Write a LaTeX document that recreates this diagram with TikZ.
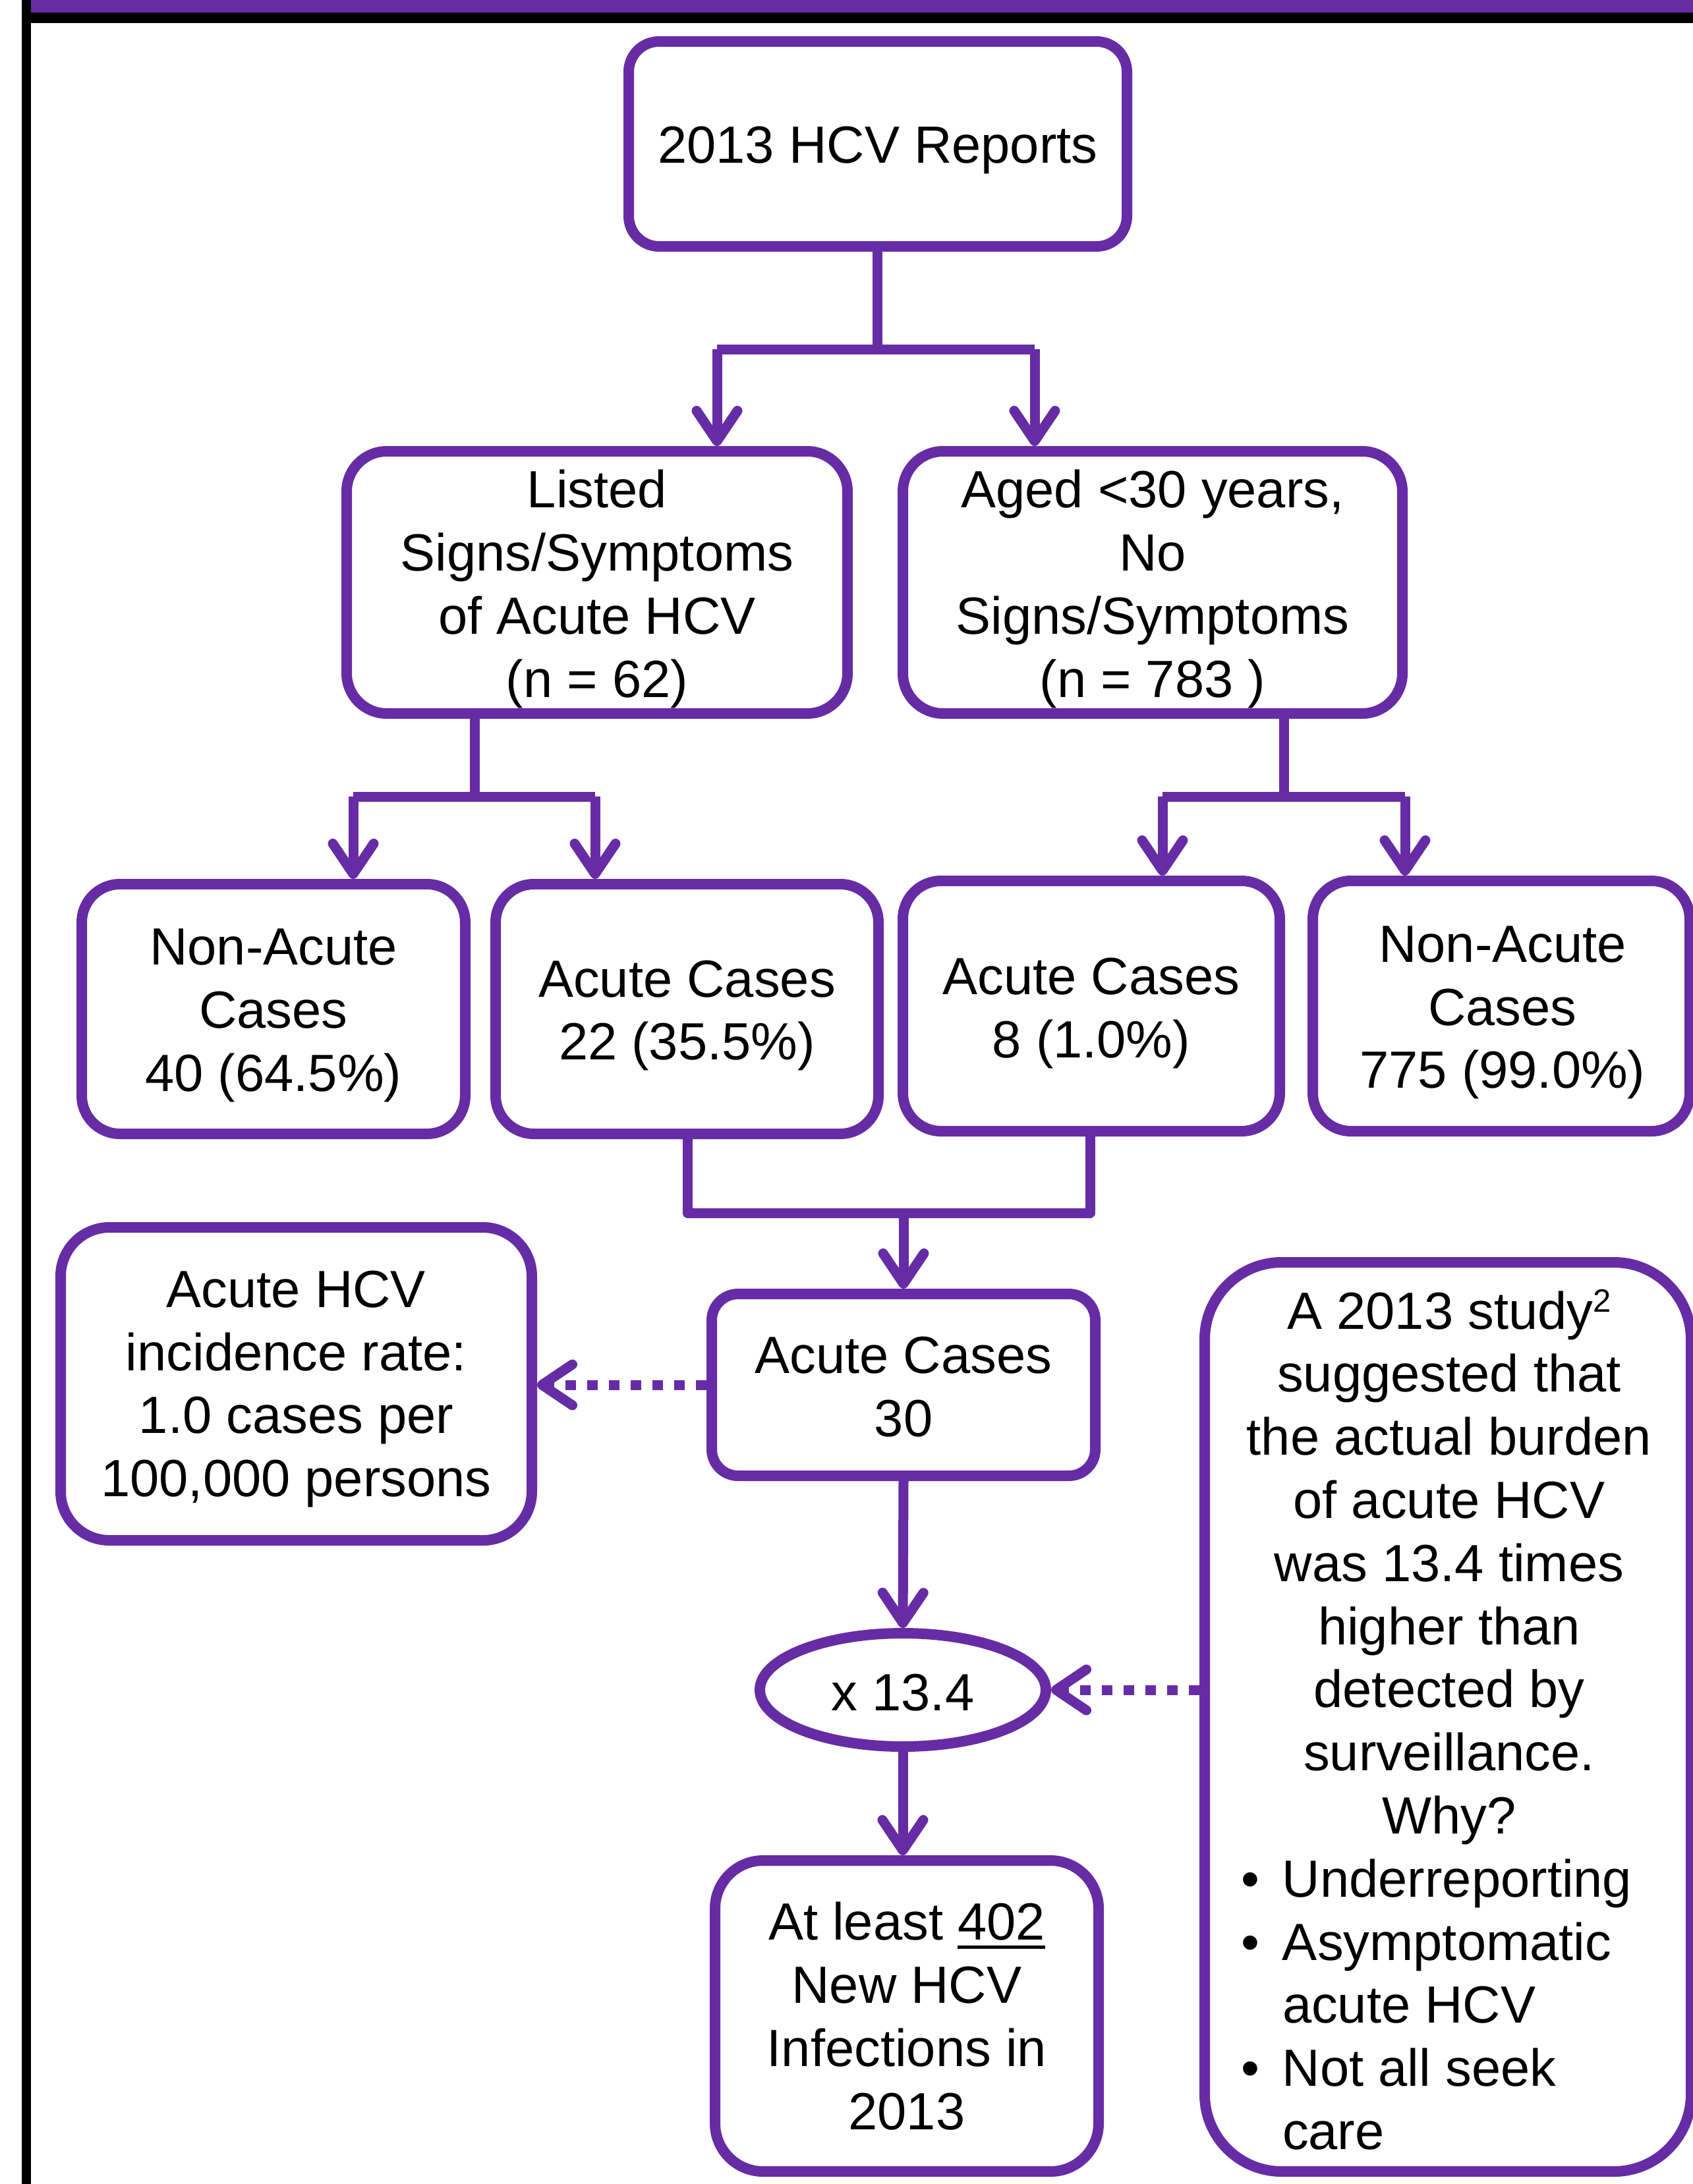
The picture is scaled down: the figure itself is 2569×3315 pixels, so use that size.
\documentclass[tikz,border=0pt]{standalone}
\usepackage{fontspec}
\setmainfont{Liberation Sans}
\usetikzlibrary{arrows.meta,shapes.geometric}
\definecolor{hcvpurple}{RGB}{102,44,165}
\newcommand\fs{\fontsize{79.5pt}{95.8pt}\selectfont}
\newcommand\ulnum[1]{\setbox0\hbox{#1}\rlap{\rule[-13pt]{\wd0}{5pt}}\box0}
\newcommand\kline[2]{\makebox[632pt][l]{\makebox[63pt][l]{#1}#2}}
\newcommand\supnum[1]{\raisebox{26pt}{\fontsize{49pt}{50pt}\selectfont #1}}
\begin{document}
\begin{tikzpicture}[x=1pt,y=-1pt,
  box/.style={draw=hcvpurple, line width=16pt, fill=white, inner sep=0pt},
  txt/.style={align=center, inner sep=0pt, font=\fs, text=black},
  conn/.style={draw=hcvpurple, line width=15pt, line join=round},
  arr/.style={conn, -{Straight Barb[length=46pt,width=62pt,round]}},
  dotarr/.style={arr, dash pattern=on 16pt off 17pt}]
\path[use as bounding box] (0,0) rectangle (2569,3315);
\fill[white] (0,0) rectangle (2569,3315);
\fill[black] (33,0) rectangle (47,3315);
\fill[hcvpurple] (47,0) rectangle (2569,19);
\fill[black] (47,19) rectangle (2569,35);

% boxes
\node[box, minimum width=756pt, minimum height=311pt, rounded corners=46pt] (A) at (1332,218.5) {};
\node[box, minimum width=760pt, minimum height=398pt, rounded corners=61pt] (B) at (906,884) {};
\node[box, minimum width=758pt, minimum height=398pt, rounded corners=61pt] (C) at (1749,884) {};
\node[box, minimum width=582pt, minimum height=379pt, rounded corners=58pt] (D) at (415,1531.5) {};
\node[box, minimum width=581pt, minimum height=379pt, rounded corners=58pt] (E) at (1042.5,1531.5) {};
\node[box, minimum width=572pt, minimum height=380pt, rounded corners=58pt] (F) at (1656,1527) {};
\node[box, minimum width=572pt, minimum height=380pt, rounded corners=58pt] (G) at (2278,1527) {};
\node[box, minimum width=582pt, minimum height=276pt, rounded corners=40pt] (H) at (1371,2102) {};
\node[box, minimum width=715pt, minimum height=475pt, rounded corners=74pt] (J) at (449.5,2100.5) {};
\node[box, ellipse, minimum width=434pt, minimum height=172pt] (X) at (1370,2565) {};
\node[box, minimum width=582pt, minimum height=472pt, rounded corners=73pt] (I) at (1376,3060) {};
\node[box, minimum width=738pt, minimum height=1380pt, rounded corners=117pt] (K) at (2197,2606) {};

% texts
\node[txt] (At) at ([yshift=-9pt]A.center) {2013 HCV Reports};
\node[txt] (Bt) at ([yshift=-10pt]B.center) {Listed\\Signs/Symptoms\\of Acute HCV\\(n = 62)};
\node[txt] (Ct) at ([yshift=-10pt]C.center) {Aged <30 years,\\No\\Signs/Symptoms\\(n = 783 )};
\node[txt] (Dt) at ([yshift=-10pt]D.center) {Non-Acute\\Cases\\40 (64.5\%)};
\node[txt] (Et) at ([yshift=-10pt]E.center) {Acute Cases\\22 (35.5\%)};
\node[txt] (Ft) at ([yshift=-11pt]F.center) {Acute Cases\\8 (1.0\%)};
\node[txt] (Gt) at ([xshift=2pt,yshift=-10pt]G.center) {Non-Acute\\Cases\\775 (99.0\%)};
\node[txt] (Ht) at ([yshift=-3pt]H.center) {Acute Cases\\30};
\node[txt] (Jt) at ([yshift=-8pt]J.center) {Acute HCV\\incidence rate:\\1.0 cases per\\100,000 persons};
\node[txt] (Xt) at ([yshift=-4pt]X.center) {x 13.4};
\node[txt] (It) at (I.center) {At least \ulnum{402}\\New HCV\\Infections in\\2013};
\node[txt] (Kt) at ([xshift=2pt,yshift=-4pt]K.center) {A 2013 study\supnum{2}\\suggested that\\the actual burden\\of acute HCV\\was 13.4 times\\higher than\\detected by\\surveillance.\\Why?\\\kline{•}{Underreporting}\\\kline{•}{Asymptomatic}\\\kline{}{acute HCV}\\\kline{•}{Not all seek}\\\kline{}{care}};

% level 1
\coordinate (a1) at (1331,530);
\coordinate (a2) at (1088,530);
\coordinate (a3) at (1570,530);
\draw[conn] (A.south -| a1) -- (a1);
\draw[conn] (a2) -- (a3);
\draw[arr] (a2) -- (a2 |- B.north);
\draw[arr] (a3) -- (a3 |- C.north);

% level 2 left
\coordinate (b1) at (720,1209);
\coordinate (b2) at (536,1209);
\coordinate (b3) at (903,1209);
\draw[conn] (B.south -| b1) -- (b1);
\draw[conn] (b2) -- (b3);
\draw[arr] (b2) -- (b2 |- D.north);
\draw[arr] (b3) -- (b3 |- E.north);

% level 2 right
\coordinate (c1) at (1948,1209);
\coordinate (c2) at (1764,1209);
\coordinate (c3) at (2132,1209);
\draw[conn] (C.south -| c1) -- (c1);
\draw[conn] (c2) -- (c3);
\draw[arr] (c2) -- (c2 |- F.north);
\draw[arr] (c3) -- (c3 |- G.north);

% merge
\coordinate (m1) at (1043,1841);
\coordinate (m2) at (1654,1841);
\coordinate (m3) at (1371,1841);
\draw[conn] (E.south -| m1) -- (m1) -- (m2) -- (F.south -| m2);
\draw[arr] (m3) -- (H.north);

\draw[arr] (H.south) -- (X.north);
\draw[arr] (X.south) -- (X.south |- I.north);

% dotted arrows
\draw[dotarr] (H.west) -- (H.west -| J.east);
\draw[dotarr] (X.east -| K.west) -- (X.east);
\end{tikzpicture}
\end{document}
